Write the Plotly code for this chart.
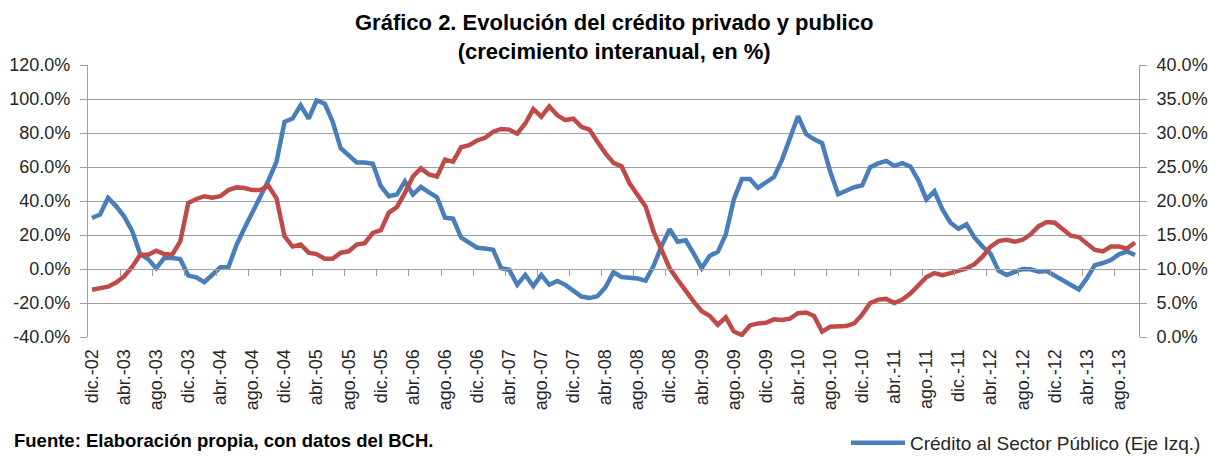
import plotly.graph_objects as go

months_es = ["dic.", "ene.", "feb.", "mar.", "abr.", "may.", "jun.", "jul.", "ago.", "sep.", "oct.", "nov."]
n_months = 131  # dic-02 .. oct-13
categories = []
for i in range(n_months):
    m = i % 12
    yr = 2 + (i + 11) // 12
    categories.append(f"{months_es[m]}-{yr:02d}")

credito_publico = [
    30, 32, 41.8, 37, 31, 22.4, 8.8, 5.8, 0.4, 6.4, 6.4, 5.8, -3.9, -4.9, -7.8, -3.5, 1, 1,
    14, 24, 33.5, 42.8, 52.2, 63.2, 86.6, 88.5, 96.3, 88.5, 99.2, 97.3, 86.6, 71, 67.1, 62.7,
    62.7, 61.9, 48.7, 42.8, 43.8, 51.6, 43.8, 48.3, 45.1, 42.2, 30.2, 29.6, 18.5, 15.2, 12.5,
    12.1, 11.3, 0.4, -0.4, -9.3, -3.5, -10.1, -3.5, -9.3, -7.0, -9.3, -13.0, -16.2, -17.1,
    -16.0, -10.7, -1.9, -4.7, -5.1, -5.6, -6.8, 1.9, 13.6, 23.4, 16.0, 16.9, 9, 0.5, 7.8,
    10.1, 20.4, 40.9, 52.9, 52.9, 47.7, 50.6, 54.1, 64.2, 76.9, 89.9, 79.4, 76.3, 74, 57.4,
    44, 46.3, 48.1, 49.2, 59.9, 62.1, 63.6, 60.7, 62.3, 60.3, 52.2, 40.9, 45.7, 35, 27.2,
    23.7, 26.3, 18.5, 13.2, 9, -1, -3.5, -1.6, 0, -0.2, -1.6, -1.2, -3.9, -6.8, -9.7, -12.1,
    -5.4, 2.3, 3.5, 5.3, 8.6, 10.3, 8.2,
]

credito_privado = [
    6.95, 7.1, 7.4, 8.0, 8.9, 10.3, 12.1, 12.1, 12.7, 12.2, 12.1, 14.05, 19.7, 20.3, 20.7,
    20.5, 20.7, 21.6, 22.0, 21.9, 21.6, 21.6, 22.2, 20.4, 14.8, 13.3, 13.6, 12.4, 12.2, 11.5,
    11.5, 12.4, 12.6, 13.6, 13.8, 15.3, 15.7, 18.3, 19.1, 21.2, 23.6, 24.8, 23.9, 23.6, 26.1,
    25.8, 27.9, 28.2, 28.9, 29.3, 30.2, 30.6, 30.5, 29.9, 31.4, 33.5, 32.4, 33.9, 32.6, 31.9,
    32.1, 30.9, 30.5, 28.7, 27.0, 25.6, 25.1, 22.6, 20.9, 19.2, 15.5, 12.8, 10.1, 8.4, 6.7,
    5.2, 3.8, 3.1, 1.8, 2.9, 0.8, 0.3, 1.7, 2.0, 2.1, 2.6, 2.5, 2.7, 3.5, 3.6, 3.1, 0.8, 1.5,
    1.6, 1.6, 2.0, 3.3, 5.0, 5.5, 5.6, 5.0, 5.5, 6.4, 7.6, 8.8, 9.4, 9.1, 9.4, 9.8, 10.1,
    10.7, 11.8, 13.3, 14.1, 14.3, 14.0, 14.3, 15.1, 16.3, 16.9, 16.8, 15.9, 14.9, 14.7, 13.8,
    12.8, 12.6, 13.3, 13.3, 13.0, 13.9,
]

left_ticks = [-40, -20, 0, 20, 40, 60, 80, 100, 120]
right_ticks = [0, 5, 10, 15, 20, 25, 30, 35, 40]

xidx = list(range(n_months))
label_idx = list(range(0, n_months, 4))
label_text = [categories[i] for i in label_idx]
boundary_ticks = [i - 0.5 for i in range(4, n_months, 4)]

BLUE = "#4A7EBB"
RED = "#BE4B48"
GRID = "#A0A0A0"
TXT = "#262626"
FONT = "Liberation Sans, Arial, sans-serif"

L, R, T, B = 88, 70, 65, 119
PW, PH = 1209 - L - R, 456 - T - B


def px_x(px):
    return (px - L) / PW


def px_y(py):
    return (456 - B - py) / PH


fig = go.Figure()
fig.add_trace(go.Scatter(
    x=xidx, y=credito_publico, mode="lines", name="Crédito al Sector Público (Eje Izq.)",
    line=dict(color=BLUE, width=4.5), yaxis="y", xaxis="x",
))
fig.add_trace(go.Scatter(
    x=xidx, y=credito_privado, mode="lines", name="Crédito al Sector Privado (Eje Der.)",
    line=dict(color=RED, width=4.5), yaxis="y2", xaxis="x", showlegend=False,
))
# invisible trace to carry the zero-crossing category axis
fig.add_trace(go.Scatter(
    x=[xidx[0], xidx[-1]], y=[0, 0], mode="lines", line=dict(width=0),
    xaxis="x2", yaxis="y", showlegend=False, hoverinfo="skip",
))

xr = [-0.5, n_months - 0.5]
fig.update_layout(
    width=1209, height=456,
    margin=dict(l=L, r=R, t=T, b=B, autoexpand=False),
    paper_bgcolor="white", plot_bgcolor="white",
    font=dict(family=FONT, size=18, color=TXT),
    showlegend=True,
    xaxis=dict(
        range=xr, tickmode="array", tickvals=label_idx, ticktext=label_text,
        tickangle=-90, showgrid=False, zeroline=False, showline=False,
        ticks="outside", ticklen=4, tickcolor="rgba(0,0,0,0)",
        tickfont=dict(size=18, color=TXT), automargin=False,
    ),
    xaxis2=dict(
        range=xr, overlaying="x", anchor="free", position=0.25,
        tickmode="array", tickvals=boundary_ticks, showticklabels=False,
        ticks="outside", ticklen=6, tickcolor=GRID, tickwidth=1,
        showline=True, linecolor=GRID, linewidth=1, showgrid=False, zeroline=False,
        automargin=False,
    ),
    yaxis=dict(
        range=[-40, 120], tickmode="array", tickvals=left_ticks,
        ticktext=[f"{v:.1f}%" for v in left_ticks],
        showgrid=True, gridcolor=GRID, gridwidth=1, zeroline=False,
        showline=True, linecolor=GRID, linewidth=1,
        ticks="outside", ticklen=7, tickcolor=GRID, ticklabelstandoff=6,
        tickfont=dict(size=18, color=TXT), automargin=False,
    ),
    yaxis2=dict(
        range=[0, 40], overlaying="y", side="right", tickmode="array", tickvals=right_ticks,
        ticktext=[f"{v:.1f}%" for v in right_ticks],
        showgrid=False, zeroline=False,
        showline=True, linecolor=GRID, linewidth=1,
        ticks="outside", ticklen=7, tickcolor=GRID, ticklabelstandoff=6,
        tickfont=dict(size=18, color=TXT), automargin=False,
    ),
    legend=dict(
        orientation="h", x=px_x(846), xanchor="left",
        y=px_y(443), yanchor="middle",
        font=dict(size=19, color=TXT), bgcolor="rgba(0,0,0,0)",
        itemwidth=54,
    ),
    annotations=[
        dict(
            text="<b>Gráfico 2. Evolución del crédito privado y publico</b><br><b>(crecimiento interanual, en %)</b>",
            xref="paper", yref="paper", x=0.5, y=px_y(36.5),
            xanchor="center", yanchor="middle", showarrow=False,
            font=dict(family=FONT, size=22, color="#000000"),
        ),
        dict(
            text="<b>Fuente: Elaboración propia, con datos del BCH.</b>",
            xref="paper", yref="paper", x=px_x(12), y=px_y(440),
            xanchor="left", yanchor="middle", showarrow=False,
            font=dict(family=FONT, size=18.5, color="#000000"),
        ),
    ],
)

fig.write_html(
    "out.html",
    config={"displayModeBar": False},
    post_script="document.body.style.margin='0px';document.body.style.overflow='hidden';",
)
